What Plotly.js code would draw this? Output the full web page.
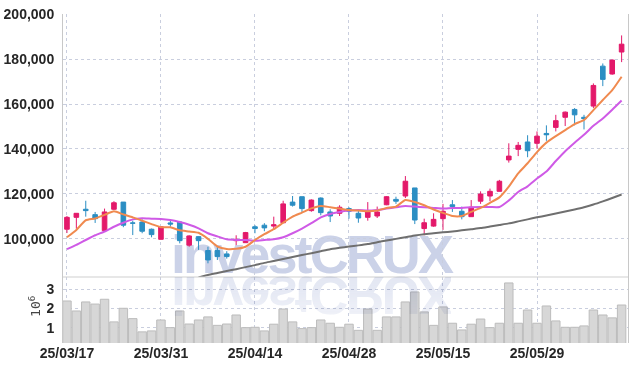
<!DOCTYPE html>
<html>
<head>
<meta charset="utf-8">
<script src="https://cdn.plot.ly/plotly-3.0.1.min.js"></script>
<style>
  html, body { margin:0; padding:0; background:#ffffff; }
  #wrap { position:relative; width:636px; height:371px; overflow:hidden; background:#ffffff; }
  #chart { position:absolute; left:0; top:0; width:636px; height:371px; z-index:2; }
  .wm { position:absolute; left:171px; top:227px; font-family:'Liberation Sans', Arial, sans-serif;
        font-weight:bold; font-size:54px; line-height:54px; letter-spacing:-2.9px; white-space:nowrap;
        color:#cbd2e8; }
  #wm1 { z-index:1; }
  #wm2 { z-index:3; transform-origin:0px 48px; transform:scaleY(-1); opacity:0.55; mix-blend-mode:multiply;
         -webkit-mask-image:linear-gradient(to top, rgba(0,0,0,1) 0%, rgba(0,0,0,0.9) 40%, rgba(0,0,0,0.45) 100%);
         mask-image:linear-gradient(to top, rgba(0,0,0,1) 0%, rgba(0,0,0,0.9) 40%, rgba(0,0,0,0.45) 100%);
         pointer-events:none; }
</style>
</head>
<body>
<div id="wrap">
  <div class="wm" id="wm1">investCRUX</div>
  <div id="chart"></div>
  <div class="wm" id="wm2">investCRUX</div>
</div>
<script>
const dates = [
  "25/03/17","25/03/18","25/03/19","25/03/20","25/03/21","25/03/24","25/03/25","25/03/26","25/03/27","25/03/28",
  "25/03/31","25/04/01","25/04/02","25/04/03","25/04/04","25/04/07","25/04/08","25/04/09","25/04/10","25/04/11",
  "25/04/14","25/04/15","25/04/16","25/04/17","25/04/18","25/04/21","25/04/22","25/04/23","25/04/24","25/04/25",
  "25/04/28","25/04/29","25/04/30","25/05/02","25/05/07","25/05/08","25/05/09","25/05/12","25/05/13","25/05/14",
  "25/05/15","25/05/16","25/05/19","25/05/20","25/05/21","25/05/22","25/05/23","25/05/26","25/05/27","25/05/28",
  "25/05/29","25/05/30","25/06/02","25/06/04","25/06/05","25/06/09","25/06/10","25/06/11","25/06/12","25/06/13"
];
const openP = [
  104200,109500,113100,110700,103600,113100,116300,107000,107400,104200,
  99700,107000,107400,97100,100900,94700,94700,93200,99100,98200,
  105300,106000,105600,107100,116300,118700,112500,118100,111900,111300,
  113400,111300,109500,110100,115100,117500,119000,122600,104500,105600,
  108900,115100,112200,109800,116700,119000,121100,135100,139800,143100,
  142500,146900,149600,154100,157600,154100,159100,176900,173400,183200
];
const highP = [
  110100,111400,116900,111900,113400,116700,116300,108000,108600,104500,
  105600,108300,107900,101500,101000,96400,96200,94400,101500,103000,
  106000,106900,109800,116900,119000,118700,117500,118400,113100,114900,
  114000,112500,116300,114300,119000,118700,127900,122600,108900,111300,
  115500,117200,114300,117200,121100,122300,126200,142500,143100,146100,
  147800,150500,155200,156700,158200,155200,169200,178100,179900,190600
];
const lowP = [
  102500,104400,109800,107000,103400,112800,105100,101600,102400,100600,
  99600,105300,97900,96400,95000,89000,90500,91100,97100,98200,
  102400,103300,104200,107100,114300,111900,112000,110400,107400,110100,
  108900,107100,108000,109200,114900,115500,118100,106500,101500,105300,
  103900,111900,108600,109800,115500,116700,121100,133900,136800,136300,
  140100,143600,147800,150200,150500,148700,158200,168000,173100,178700
];
const closeP = [
  109500,111300,112500,108900,111900,116000,106000,106900,103300,101800,
  105300,106500,99100,101200,99100,90500,92000,92000,99700,102700,
  104500,104800,106200,115500,114900,113400,117200,111600,110100,114000,
  112200,109200,112500,111900,118700,116700,125600,108300,107100,108600,
  112200,114300,109800,114000,119900,121100,125600,136800,141600,139200,
  145700,146300,152600,156400,155200,153500,168300,171000,179600,186700
];
const ma5 = [
  100600,103900,108200,109000,110600,112200,110800,109500,108000,106500,
  105100,105100,103700,103200,102600,99900,96500,95400,95500,96400,
  99400,102000,104200,107100,109800,111600,113500,114600,114000,113400,
  112800,112500,112200,112500,113700,114300,117200,116300,114900,113000,
  111500,110100,110100,111900,113700,116000,118400,123200,129100,133600,
  138600,142800,145700,148400,151100,152900,157300,161800,166200,172200
];
const ma10 = [
  95300,97200,99400,101500,103200,105300,107100,108600,109100,108900,
  108800,108300,107400,106200,104600,102400,101000,99700,99400,99400,
  99100,99400,99700,100600,102400,104500,106900,109500,111000,111900,
  112500,112800,112500,112800,113400,114000,114600,114300,114000,113700,
  113400,113700,113700,114000,114100,114100,114100,117000,120800,123300,
  126800,129900,134600,139000,142800,146300,150300,153600,157500,161600
];
const maLong = [
  null,null,null,null,null,null,null,null,null,null,
  null,null,null,null,82700,83800,84700,85600,86400,87300,
  88200,89200,90000,90900,91800,92700,93500,94400,95300,95900,
  96500,97000,97600,98400,99200,99900,100600,101400,102000,102400,
  102800,103200,103700,104200,104700,105400,106100,106800,107700,108600,
  109500,110300,111200,112100,113000,114000,115200,116600,118100,119700
];
const volume = [
  2390000,1870000,2340000,2230000,2480000,1300000,2010000,1470000,780000,830000,
  1400000,1000000,1870000,1190000,1400000,1560000,1120000,1190000,1660000,1000000,
  1020000,830000,1180000,1970000,1300000,950000,1000000,1400000,1230000,1020000,
  1180000,860000,1970000,860000,1560000,1560000,2340000,2860000,1820000,1120000,
  2080000,1230000,880000,1180000,1450000,1000000,1230000,3330000,1230000,1920000,
  1230000,2130000,1350000,1020000,1020000,1090000,1920000,1660000,1510000,2180000
];
const xTickVals = ["25/03/17","25/03/31","25/04/14","25/04/28","25/05/15","25/05/29"];
const volTickVals = [1000000,2000000,3000000];
const volTickText = ["1","2","3"];
const volUnit = "10<sup>6</sup>";

const RED = "#e3196a", BLUE = "#2b8ec3";
const tickFont = {family:"'Liberation Sans', Arial, sans-serif", size:14, color:"#262626", weight:"bold"};
const gridC = "#c9cede";
const split = 0.2006;

const traces = [
  {
    type:"bar", x:dates, y:volume, xaxis:"x", yaxis:"y2",
    marker:{color:"#d7d7d7", line:{color:"#bcbcbc", width:1}},
    hoverinfo:"skip", showlegend:false
  },
  {
    type:"candlestick", x:dates, open:openP, high:highP, low:lowP, close:closeP,
    xaxis:"x", yaxis:"y", whiskerwidth:0,
    increasing:{line:{color:RED, width:1}, fillcolor:RED},
    decreasing:{line:{color:BLUE, width:1}, fillcolor:BLUE},
    hoverinfo:"skip", showlegend:false
  },
  {
    type:"scatter", mode:"lines", x:dates, y:maLong, xaxis:"x", yaxis:"y",
    line:{color:"#6f6f6f", width:2, shape:"spline", smoothing:0.5},
    hoverinfo:"skip", showlegend:false
  },
  {
    type:"scatter", mode:"lines", x:dates, y:ma10, xaxis:"x", yaxis:"y",
    line:{color:"#cf5ae6", width:2, shape:"spline", smoothing:0.5},
    hoverinfo:"skip", showlegend:false
  },
  {
    type:"scatter", mode:"lines", x:dates, y:ma5, xaxis:"x", yaxis:"y",
    line:{color:"#f08a4f", width:2, shape:"spline", smoothing:0.5},
    hoverinfo:"skip", showlegend:false
  }
];

const layout = {
  width:636, height:371,
  margin:{l:63, r:8, t:14, b:28, pad:0},
  paper_bgcolor:"rgba(0,0,0,0)", plot_bgcolor:"rgba(0,0,0,0)",
  showlegend:false,
  bargap:0.1,
  xaxis:{
    type:"category", anchor:"y2", range:[-0.42, 59.68],
    rangeslider:{visible:false},
    tickmode:"array", tickvals:xTickVals, ticktext:xTickVals,
    showgrid:true, gridcolor:gridC, griddash:"dot", gridwidth:1,
    showline:false, zeroline:false, ticks:"", tickfont:tickFont, automargin:false
  },
  yaxis:{
    domain:[split, 1], range:[82900, 200150],
    dtick:20000, tick0:0, tickformat:",d",
    showgrid:true, gridcolor:gridC, griddash:"dot", gridwidth:1,
    showline:true, linecolor:"#c8c8c8", linewidth:1, mirror:true,
    zeroline:false, ticks:"", ticklabelstandoff:5, tickfont:tickFont, automargin:false
  },
  yaxis2:{
    domain:[0, split], range:[200000, 3640000],
    tickmode:"array", tickvals:volTickVals, ticktext:volTickText,
    showgrid:true, gridcolor:gridC, griddash:"dot", gridwidth:1,
    showline:true, linecolor:"#c8c8c8", linewidth:1, mirror:true,
    zeroline:false, ticks:"", ticklabelstandoff:5, tickfont:tickFont, automargin:false
  },
  annotations:[
    {text:volUnit, xref:"paper", yref:"paper", x:-0.05, y:0.112, xanchor:"center", yanchor:"middle",
     textangle:-90, showarrow:false, font:{family:"'DejaVu Sans Mono', monospace", size:13, color:"#444"}}
  ],
  shapes:[
    {type:"line", xref:"paper", yref:"paper", x0:0, x1:1, y0:split, y1:split,
     line:{color:"#cfcfcf", width:1}}
  ]
};

Plotly.newPlot("chart", traces, layout, {staticPlot:true, displayModeBar:false});
</script>
</body>
</html>
